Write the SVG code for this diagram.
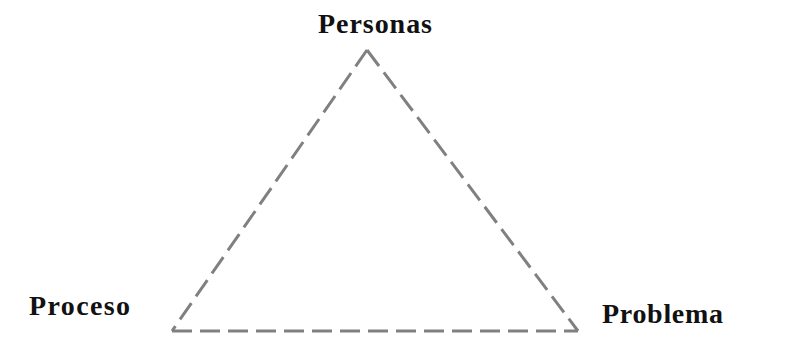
<svg xmlns="http://www.w3.org/2000/svg" width="809" height="347" viewBox="0 0 809 347">
<style>
.lbl{font-family:"Liberation Serif","Times New Roman",serif;font-weight:bold;font-size:28px;fill:#111}
.edge{stroke:#808080;stroke-width:3;fill:none;stroke-dasharray:20 8}
</style>
<rect width="809" height="347" fill="#fff"/>
<g id="connectors">
<line class="edge" x1="367" y1="50" x2="172" y2="331"/>
<line class="edge" x1="367" y1="50" x2="578" y2="331"/>
<line class="edge" x1="172" y1="331" x2="578" y2="331"/>
</g>
<g id="personas"><text class="lbl" x="318" y="33" textLength="114" lengthAdjust="spacing">Personas</text></g>
<g id="proceso"><text class="lbl" x="29" y="315" textLength="101" lengthAdjust="spacing">Proceso</text></g>
<g id="problema"><text class="lbl" x="602" y="323" textLength="121" lengthAdjust="spacing">Problema</text></g>
</svg>
